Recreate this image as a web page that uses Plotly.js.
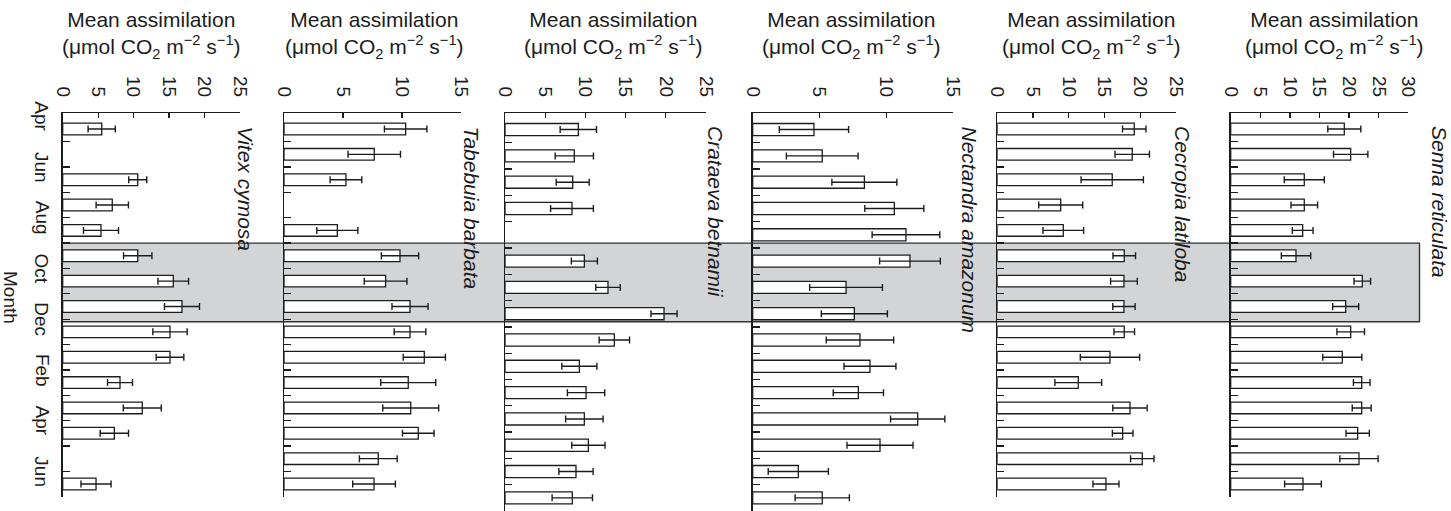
<!DOCTYPE html>
<html><head><meta charset="utf-8">
<script src="https://cdn.plot.ly/plotly-3.0.1.min.js"></script>
<style>html,body{margin:0;padding:0;background:#fff}#chart{width:1451px;height:511px}</style>
</head><body><div id="chart"></div>
<script>
// ---- data ----
const months = ['Apr','May','Jun','Jul','Aug','Sep','Oct','Nov','Dec','Jan','Feb','Mar','Apr','May','Jun'];
const monthTickLabels = ['Apr','Jun','Aug','Oct','Dec','Feb','Apr','Jun'];
const species = ['Vitex cymosa','Tabebuia barbata','Crataeva betnamii','Nectandra amazonum','Cecropia latiloba','Senna reticulata'];

const vitexMean = [5.50, null, 10.58, 6.99, 5.40, 10.58, 15.59, 16.82, 15.13, 15.13, 8.08, 11.22, 7.28, null, 4.70];
const vitexSE   = [1.92, null, 1.27, 2.28, 2.47, 2.00, 2.16, 2.47, 2.42, 1.95, 1.76, 2.68, 2.00, null, 2.12];

const tabebuiaMean = [10.31, 7.65, 5.25, null, 4.52, 9.83, 8.61, 10.68, 10.68, 11.89, 10.53, 10.74, 11.38, 7.99, 7.63];
const tabebuiaSE   = [1.80, 2.22, 1.34, null, 1.74, 1.58, 1.81, 1.53, 1.34, 1.79, 2.33, 2.37, 1.34, 1.60, 1.81];

const crataevaMean = [9.12, 8.62, 8.42, 8.33, null, 9.87, 12.81, 19.78, 13.60, 9.25, 10.08, 9.87, 10.37, 8.83, 8.37];
const crataevaSE   = [2.26, 2.38, 2.05, 2.66, null, 1.62, 1.52, 1.62, 1.89, 2.18, 2.32, 2.33, 2.07, 2.13, 2.51];

const nectandraMean = [4.58, 5.20, 8.35, 10.59, 11.46, 11.76, 6.98, 7.60, 8.02, 8.77, 7.90, 12.34, 9.52, 3.41, 5.20];
const nectandraSE   = [2.59, 2.68, 2.43, 2.21, 2.53, 2.27, 2.72, 2.47, 2.52, 1.94, 1.88, 2.03, 2.47, 2.25, 2.03];

const cecropiaMean = [19.16, 18.88, 16.08, 8.87, 9.23, 17.76, 17.72, 17.72, 17.76, 15.76, 11.33, 18.56, 17.54, 20.28, 15.20];
const cecropiaSE   = [1.64, 2.41, 4.36, 3.08, 2.84, 1.58, 1.87, 1.56, 1.44, 4.15, 3.27, 2.40, 1.44, 1.64, 1.82];

const sennaMean = [19.19, 20.27, 12.43, 12.43, 12.16, 11.03, 22.23, 19.42, 20.27, 18.85, 22.13, 22.13, 21.45, 21.67, 12.21];
const sennaSE   = [2.79, 2.90, 3.38, 2.25, 1.75, 2.48, 1.40, 2.20, 2.33, 3.30, 1.40, 1.60, 1.97, 3.23, 3.10];

const axisMax = [25, 15, 25, 15, 25, 30];
const drySeasonStart = 'Sep', drySeasonEnd = 'Nov';

// ---- layout geometry (pixels) ----
const W = 1451, H = 511, TOP = 113, PH = H - TOP;
const panelLeft   = [62.7, 284, 505, 752.7, 997.3, 1230.7];
const panelRight  = [240, 461, 706, 953.3, 1176, 1408.3];
const panelBottom = [496.7, 496.7, 511, 511, 496.7, 496.7];
const titleCenter = [151, 374, 613, 851, 1091, 1334];
const speciesX    = [245, 471, 716, 969, 1183, 1440];
const px = v => v / W;
const py = v => (H - v) / PH;

const INK = '#1c1c1c';
const FONT = 'Liberation Sans, Arial, Helvetica, sans-serif';

const means = [vitexMean, tabebuiaMean, crataevaMean, nectandraMean, cecropiaMean, sennaMean];
const ses = [vitexSE, tabebuiaSE, crataevaSE, nectandraSE, cecropiaSE, sennaSE];
const slots = months.map((m, i) => i);
const boundaries = months.map((m, i) => i + 0.5);

const traces = [];
const layout = {
  width: W, height: H,
  margin: {l: 0, r: 0, t: TOP, b: 0, pad: 0},
  paper_bgcolor: '#ffffff',
  plot_bgcolor: 'rgba(0,0,0,0)',
  showlegend: false,
  font: {family: FONT, color: INK},
  annotations: [],
  shapes: []
};

for (let p = 0; p < 6; p++) {
  const sfx = p === 0 ? '' : String(p + 1);
  traces.push({
    type: 'bar', orientation: 'h',
    x: means[p], y: slots,
    xaxis: 'x' + sfx, yaxis: 'y' + sfx,
    width: 0.46,
    marker: {color: '#ffffff', line: {color: INK, width: 1.3}},
    error_x: {type: 'data', array: ses[p], visible: true, color: INK, thickness: 1.4, width: 3.5},
    hoverinfo: 'x+y'
  });
  const ticks = [];
  for (let t = 0; t <= axisMax[p]; t += 5) ticks.push(t);
  layout['xaxis' + sfx] = {
    domain: [px(panelLeft[p]), px(panelRight[p])],
    anchor: 'y' + sfx, side: 'top',
    range: [0, axisMax[p]], tickvals: ticks, ticktext: ticks.map(String),
    ticks: 'inside', ticklen: 5, tickwidth: 1.3, tickcolor: INK,
    tickangle: 90, tickfont: {size: 19, color: INK, family: FONT},
    ticklabelstandoff: 8,
    showline: true, linecolor: INK, linewidth: 1.3,
    showgrid: false, zeroline: false, fixedrange: true
  };
  layout['yaxis' + sfx] = {
    domain: [py(panelBottom[p]), 1],
    anchor: 'x' + sfx,
    range: [14.5, -0.63],
    tickvals: boundaries, ticks: 'inside', ticklen: 7, tickwidth: 1.3, tickcolor: INK,
    showticklabels: false,
    showline: true, linecolor: INK, linewidth: 1.3,
    showgrid: false, zeroline: false, fixedrange: true
  };
  layout.annotations.push({
    xref: 'paper', yref: 'paper', x: px(titleCenter[p]), y: py(6),
    xanchor: 'center', yanchor: 'top', showarrow: false, align: 'center',
    text: 'Mean assimilation<br>(\u03bcmol CO<sub>2</sub> m<sup>\u22122</sup> s<sup>\u22121</sup>)',
    font: {size: 21, color: INK, family: FONT}
  });
  layout.annotations.push({
    xref: 'paper', yref: 'paper', x: px(speciesX[p]), y: py(124),
    xanchor: 'center', yanchor: 'top', showarrow: false, textangle: 90,
    text: '<i>' + species[p] + '</i>',
    font: {size: 21, color: INK, family: FONT}
  });
}

// month labels at every second month boundary of the first panel
monthTickLabels.forEach((m, j) => {
  layout.annotations.push({
    xref: 'paper', yref: 'y', x: px(42), y: 2 * j - 0.5,
    xanchor: 'center', yanchor: 'middle', showarrow: false, textangle: 90,
    text: m, font: {size: 19, color: INK, family: FONT}
  });
});
layout.annotations.push({
  xref: 'paper', yref: 'paper', x: px(11), y: py(297),
  xanchor: 'center', yanchor: 'middle', showarrow: false, textangle: 90,
  text: 'Month', font: {size: 19, color: INK, family: FONT}
});

// shaded season band across all panels
const s0 = months.indexOf(drySeasonStart), s1 = months.indexOf(drySeasonEnd);
layout.shapes.push({
  type: 'rect', layer: 'below', xref: 'paper', yref: 'y',
  x0: px(62.2), x1: px(1419.5), y0: s0 - 0.5, y1: s1 + 0.6,
  fillcolor: '#d3d4d6', line: {color: '#333333', width: 1.4}
});

Plotly.newPlot('chart', traces, layout, {staticPlot: true, displayModeBar: false});
</script>
</body></html>
